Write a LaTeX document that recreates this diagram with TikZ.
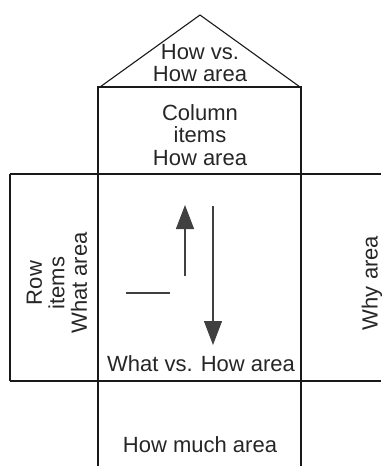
\documentclass[tikz,border=0pt]{standalone}
\usepackage{fontspec}
\setmainfont{Liberation Sans}
\usetikzlibrary{arrows.meta}
\begin{document}
\begin{tikzpicture}[x=1pt,y=-1pt,
  lbl/.style={font=\fontsize{22}{22.5}\selectfont, text=black!85, align=center, inner sep=0pt},
  thinline/.style={line width=1.1pt, black!90},
  boxline/.style={line width=1.7pt, black!90},
  colline/.style={line width=2.4pt, black!90},
  arr/.style={line width=1.3pt, black!75, -{Triangle[width=18pt,length=24pt]}}
]
\useasboundingbox (0,0) rectangle (381,466);
% roof
\coordinate (roofL) at (100,87);
\coordinate (roofT) at (200,15);
\coordinate (roofR) at (300,87);
\draw[thinline, line join=miter] (roofL) -- (roofT) -- (roofR);
% horizontal lines
\coordinate (h1L) at (10,174);
\coordinate (h1R) at (381,174);
\coordinate (h2L) at (10,381);
\coordinate (h2R) at (381,381);
\draw[boxline] (h1L) -- (h1R);
\draw[boxline] (h2L) -- (h2R);
\draw[boxline] (h1L) -- (h2L);
% central column
\coordinate (cTL) at (98,87);
\coordinate (cTR) at (301,87);
\coordinate (cBL) at (98,466);
\coordinate (cBR) at (301,466);
\draw[colline, line join=miter] (cBL) -- (cTL) -- (cTR) -- (cBR);
% texts
\node[lbl] (roof) at (200,63) {How vs.\\How area};
\node[lbl] (col) at (200,135) {Column\\items\\How area};
\node[lbl, rotate=90] (row) at (57,283) {Row\\items\\What area};
\node[lbl, rotate=90] (why) at (372,283) {Why area};
\node[lbl, anchor=base] (wvh) at (201,371) {What vs. How area};
\node[lbl, anchor=base] (much) at (200,452) {How much area};
% arrows
\coordinate (upS) at (185,276);
\coordinate (upE) at (185,205);
\coordinate (dnS) at (213,206);
\coordinate (dnE) at (213,345);
\draw[arr] (upS) -- (upE);
\draw[arr] (dnS) -- (dnE);
\coordinate (hlA) at (126,293);
\coordinate (hlB) at (170,293);
\draw[line width=1.3pt, black!75] (hlA) -- (hlB);
\end{tikzpicture}
\end{document}
